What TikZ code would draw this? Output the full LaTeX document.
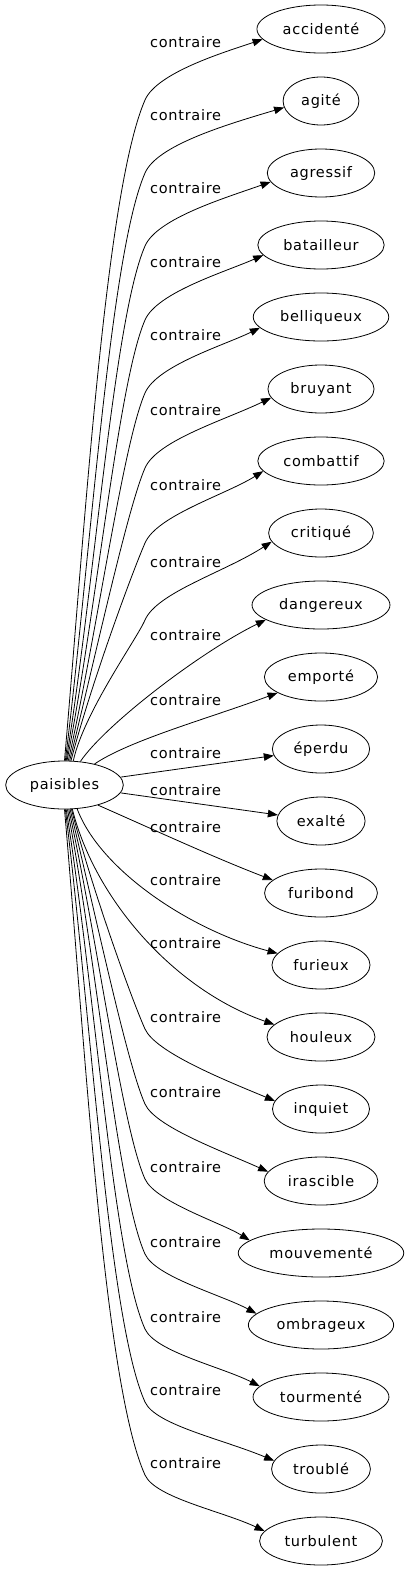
\documentclass[tikz,border=0pt]{standalone}
\usepackage{fontspec}
\newfontfamily\lblfont[LetterSpace=5]{DejaVu Sans}
\usetikzlibrary{arrows.meta,shapes.geometric}
\begin{document}
\begin{tikzpicture}[x=1pt,y=-1pt,
  word/.style={draw,ellipse,line width=0.8pt,minimum height=48pt,inner xsep=7pt,inner ysep=2pt,font=\lblfont\fontsize{14.5}{17}\selectfont,text=black},
  lab/.style={anchor=west,inner sep=0pt,font=\lblfont\fontsize{14.5}{17}\selectfont,text=black},
  edge/.style={line width=0.8pt,-{Triangle[length=10pt,width=7.5pt]}}]
\useasboundingbox (0,0) rectangle (409,1571);
\node[word] (p) at (64.5,785) {paisibles};
\foreach \i/\w in {0/accidenté,1/agité,2/agressif,3/batailleur,4/belliqueux,5/bruyant,6/combattif,7/critiqué,8/dangereux,9/emporté,10/éperdu,11/exalté,12/furibond,13/furieux,14/houleux,15/inquiet,16/irascible,17/mouvementé,18/ombrageux,19/tourmenté,20/troublé,21/turbulent}{
  \node[word] (n\i) at (321,29+72*\i) {\w};
}
\foreach \i/\yl in {0/42,1/115,2/188,3/262,4/335,5/410,6/485,7/562,8/635,9/700,10/753,11/790,12/827,13/880,14/943,15/1017,16/1092,17/1167,18/1242,19/1317,20/1390,21/1463}{
  \node[lab] (l\i) at (150,\yl) {contraire};
}
% upper edges with knee
\foreach \i/\yl/\a in {0/42/90,1/115/88,2/188/86,3/262/84,4/335/81,5/410/78,6/485/75,7/562/70}{
  \pgfmathsetmacro\Ky{\yl+58}
  \pgfmathsetmacro\L{704-\yl}
  \pgfmathsetmacro\cax{66+(0.08+0.04*\i)*0.35*\L}
  \pgfmathsetmacro\cay{762-0.35*\L}
  \pgfmathsetmacro\cbx{145-0.06*\L}
  \pgfmathsetmacro\cby{\Ky+0.138*\L}
  \pgfmathsetmacro\ccy{\Ky-27.6}
  \pgfmathsetmacro\cdy{\yl+10}
  \draw[edge] (p.\a) .. controls (\cax,\cay) and (\cbx,\cby) .. (145,\Ky) .. controls (157,\ccy) and (225,\cdy) .. (n\i.190);
}
% middle edges
\draw[edge] (p.56) .. controls (105,725) and (200,652) .. (n8.195);
\draw[edge] (p.35) .. controls (130,740) and (210,718) .. (n9.200);
\draw[edge] (p) -- (n10);
\draw[edge] (p) -- (n11);
\draw[edge] (p.-31) .. controls (150,828) and (215,858) .. (n12.165);
\draw[edge] (p.-62) .. controls (100,870) and (190,930) .. (n13.165);
\draw[edge] (p.-72) .. controls (95,900) and (175,990) .. (n14.165);
% lower edges with knee
\foreach \i/\yl/\a in {15/1017/-74,16/1092/-77,17/1167/-80,18/1242/-83,19/1317/-86,20/1390/-88,21/1463/-90}{
  \pgfmathsetmacro\Ky{\yl+12}
  \pgfmathsetmacro\L{\Ky-808}
  \pgfmathsetmacro\yt{29+72*\i}
  \pgfmathsetmacro\cax{66+(0.08+0.04*(21-\i))*0.35*\L}
  \pgfmathsetmacro\cay{808+0.35*\L}
  \pgfmathsetmacro\cbx{145-0.0615*\L}
  \pgfmathsetmacro\cby{\Ky-0.1365*\L}
  \pgfmathsetmacro\ccy{\Ky+22.8}
  \pgfmathsetmacro\cdy{\yt-30}
  \draw[edge] (p.\a) .. controls (\cax,\cay) and (\cbx,\cby) .. (145,\Ky) .. controls (155.3,\ccy) and (222,\cdy) .. (n\i.170);
}
\end{tikzpicture}
\end{document}
